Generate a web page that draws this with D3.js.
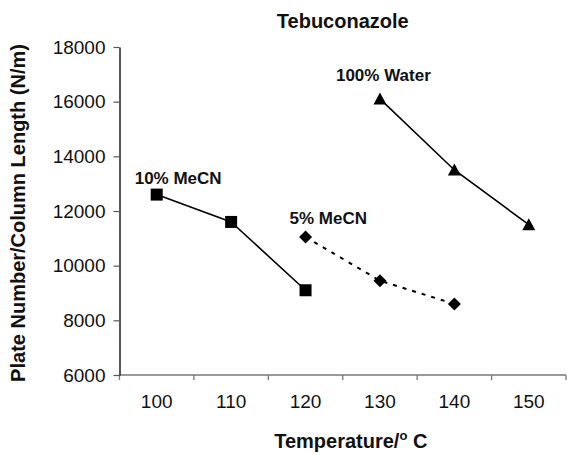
<!DOCTYPE html>
<html>
<head>
<meta charset="utf-8">
<script src="https://cdn.jsdelivr.net/npm/d3@7"></script>
<style>
  body { margin: 0; background: #fff; }
  svg { font-family: "Liberation Sans", Arial, Helvetica, sans-serif; }
</style>
</head>
<body>
<div id="chart"></div>
<script>
const temps = ['100', '110', '120', '130', '140', '150'];
const yTicks = [6000, 8000, 10000, 12000, 14000, 16000, 18000];

// series values (plate number / column length), by temperature
const mecn10 = [['100', 12600], ['110', 11600], ['120', 9100]];
const mecn5 = [['120', 11050], ['130', 9450], ['140', 8600]];
const water100 = [['130', 16100], ['140', 13500], ['150', 11500]];

const W = 567, H = 455;
const margin = { top: 47, right: 1, bottom: 80, left: 119.5 };
const width = W - margin.left - margin.right;
const height = H - margin.top - margin.bottom;

const svg = d3.select('#chart').append('svg')
    .attr('width', W)
    .attr('height', H);

const g = svg.append('g')
    .attr('transform', `translate(${margin.left},${margin.top})`);

const x = d3.scaleBand()
    .domain(temps)
    .range([0, width]);

const y = d3.scaleLinear()
    .domain([6000, 18000])
    .range([height, 0]);

const cx = d => x(d[0]) + x.bandwidth() / 2;
const cy = d => y(d[1]);

// x axis: line, ticks between categories, labels under centres
g.append('line')
    .attr('x1', 0).attr('x2', width)
    .attr('y1', height).attr('y2', height)
    .attr('stroke', '#777').attr('stroke-width', 1.3);

const bounds = temps.map(t => x(t)).concat([x.range()[1]]);
g.selectAll('.xtick')
    .data(bounds)
    .join('line')
    .attr('x1', d => d).attr('x2', d => d)
    .attr('y1', height).attr('y2', height + 5)
    .attr('stroke', '#777').attr('stroke-width', 1.3);

g.selectAll('.xlabel')
    .data(temps)
    .join('text')
    .attr('x', d => x(d) + x.bandwidth() / 2)
    .attr('y', height + 33)
    .attr('text-anchor', 'middle')
    .attr('font-size', '19px')
    .attr('fill', '#111')
    .text(d => d);

// y axis
const yAxis = g.append('g')
    .call(d3.axisLeft(y).tickValues(yTicks).tickFormat(d3.format('d'))
        .tickSize(6).tickPadding(8).tickSizeOuter(0));
yAxis.select('.domain').attr('stroke', '#000').attr('stroke-width', 1.3);
yAxis.selectAll('.tick line').attr('stroke', '#555').attr('stroke-width', 1.2);
yAxis.selectAll('.tick text')
    .attr('font-size', '19px')
    .attr('fill', '#111')
    .attr('font-family', '"Liberation Sans", Arial, Helvetica, sans-serif');

// lines
const line = d3.line().x(cx).y(cy);

g.append('path')
    .datum(mecn10)
    .attr('fill', 'none')
    .attr('stroke', '#000')
    .attr('stroke-width', 1.6)
    .attr('d', line);

g.append('path')
    .datum(mecn5)
    .attr('fill', 'none')
    .attr('stroke', '#000')
    .attr('stroke-width', 2)
    .attr('stroke-dasharray', '4,6')
    .attr('d', line);

g.append('path')
    .datum(water100)
    .attr('fill', 'none')
    .attr('stroke', '#000')
    .attr('stroke-width', 1.6)
    .attr('d', line);

// markers
g.selectAll('.sq')
    .data(mecn10)
    .join('rect')
    .attr('x', d => cx(d) - 6)
    .attr('y', d => cy(d) - 6)
    .attr('width', 12)
    .attr('height', 12)
    .attr('fill', '#000');

g.selectAll('.dm')
    .data(mecn5)
    .join('path')
    .attr('transform', d => `translate(${cx(d)},${cy(d)})`)
    .attr('d', 'M0,-6.5L6.5,0L0,6.5L-6.5,0Z')
    .attr('fill', '#000');

g.selectAll('.tri')
    .data(water100)
    .join('path')
    .attr('transform', d => `translate(${cx(d)},${cy(d)})`)
    .attr('d', 'M0,-6.5L6.5,5.5L-6.5,5.5Z')
    .attr('fill', '#000');

// series labels
const labels = [
    { text: '10% MeCN', pt: mecn10[0], dx: -22, dy: -11 },
    { text: '5% MeCN', pt: mecn5[0], dx: -16, dy: -13 },
    { text: '100% Water', pt: water100[0], dx: -44, dy: -18 }
];
g.selectAll('.slabel')
    .data(labels)
    .join('text')
    .attr('x', d => cx(d.pt) + d.dx)
    .attr('y', d => cy(d.pt) + d.dy)
    .attr('font-size', '17px')
    .attr('font-weight', 'bold')
    .attr('fill', '#111')
    .text(d => d.text);

// title and axis titles
svg.append('text')
    .attr('x', margin.left + width / 2)
    .attr('y', 28)
    .attr('text-anchor', 'middle')
    .attr('font-size', '20px')
    .attr('font-weight', 'bold')
    .attr('fill', '#111')
    .text('Tebuconazole');

const xt = svg.append('text')
    .attr('x', margin.left + width / 2 + 8)
    .attr('y', 448)
    .attr('text-anchor', 'middle')
    .attr('font-size', '20px')
    .attr('font-weight', 'bold')
    .attr('fill', '#111');
xt.append('tspan').text('Temperature/');
xt.append('tspan').attr('font-size', '13px').attr('dy', -8).text('o');
xt.append('tspan').attr('dy', 8).text(' C');

svg.append('text')
    .attr('transform', `translate(25,${margin.top + height / 2 + 2}) rotate(-90)`)
    .attr('text-anchor', 'middle')
    .attr('font-size', '20px')
    .attr('font-weight', 'bold')
    .attr('fill', '#111')
    .text('Plate Number/Column Length (N/m)');
</script>
</body>
</html>
